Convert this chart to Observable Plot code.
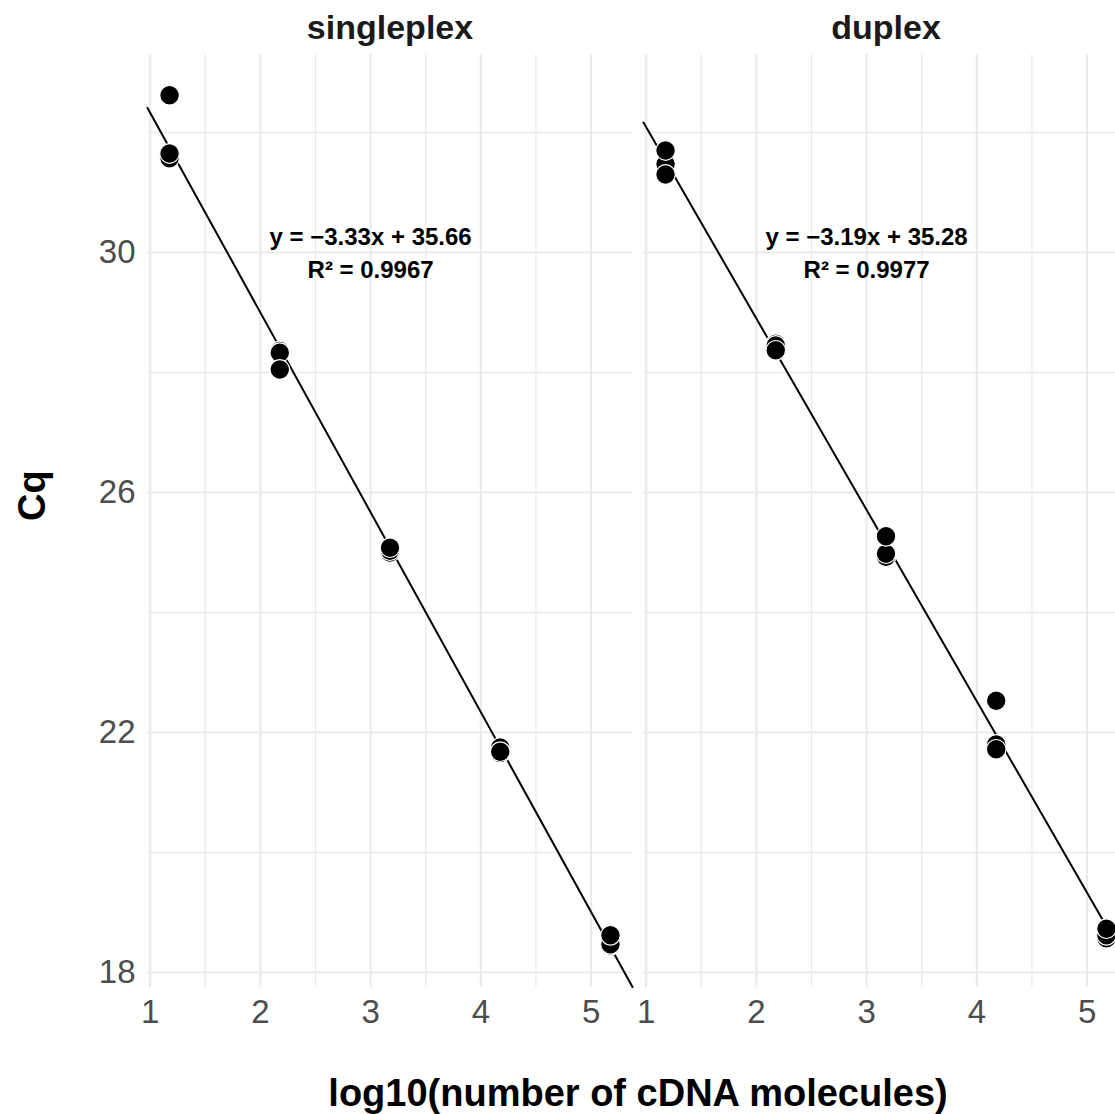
<!DOCTYPE html>
<html><head><meta charset="utf-8">
<script src="https://cdn.jsdelivr.net/npm/d3@7"></script>
<script src="https://cdn.jsdelivr.net/npm/@observablehq/plot@0.6"></script>
<style>
html,body{margin:0;padding:0;background:#fff;overflow:hidden}
#wrap{width:1115px;height:1114px;overflow:hidden}
#wrap svg{max-width:none !important;}
</style></head><body><div id="wrap"></div>
<script>
const panels = ["singleplex", "duplex"];
const logCopies = [1.176, 2.176, 3.176, 4.176, 5.176];
const cqSingleplex = [[31.57, 31.65, 32.62], [28.36, 28.33, 28.05], [25.00, 25.03, 25.08], [21.66, 21.75, 21.68], [18.45, 18.47, 18.62]];
const cqDuplex = [[31.47, 31.30, 31.70], [28.48, 28.45, 28.37], [24.93, 24.98, 25.27], [22.53, 21.80, 21.72], [18.57, 18.62, 18.73]];
const slopes = [-3.33, -3.19];
const intercepts = [35.66, 35.28];
const r2 = ["0.9967", "0.9977"];
const yTicks = [18, 22, 26, 30];
const yMinor = [20, 24, 28, 32];
const xTicks = [1, 2, 3, 4, 5];
const xMinor = [1.5, 2.5, 3.5, 4.5];
const xDomain = [0.976, 5.376];
const yDomain = [17.75, 33.3];
const xTitle = "log10(number of cDNA molecules)";
const yTitle = "Cq";

const series = [cqSingleplex, cqDuplex];
const points = panels.flatMap((p, i) =>
  series[i].flatMap((reps, j) => reps.map(cq => ({panel: p, x: logCopies[j], cq})))
);
const fitLine = panels.flatMap((p, i) =>
  xDomain.map(x => ({panel: p, x, y: intercepts[i] + slopes[i] * x}))
);
const labels = panels.map((p, i) => ({
  panel: p,
  text: `y = \u2212${Math.abs(slopes[i]).toFixed(2)}x + ${intercepts[i].toFixed(2)}\nR\u00b2 = ${r2[i]}`
}));

const gridColor = "#EBEBEB";
const chart = Plot.plot({
  width: 1128,
  height: 1114,
  marginLeft: 147,
  marginRight: 0,
  marginTop: 54,
  marginBottom: 127,
  style: {fontFamily: '"Liberation Sans", Arial, Helvetica, sans-serif', background: "#fff", maxWidth: "none"},
  fx: {domain: panels, paddingInner: 11 / 496, paddingOuter: 0, axis: null, label: null},
  x: {domain: xDomain},
  y: {domain: yDomain},
  marks: [
    Plot.gridY(yMinor, {stroke: gridColor, strokeOpacity: 1, strokeWidth: 1.3}),
    Plot.gridX(xMinor, {stroke: gridColor, strokeOpacity: 1, strokeWidth: 1.3}),
    Plot.gridY(yTicks, {stroke: gridColor, strokeOpacity: 1, strokeWidth: 2.2}),
    Plot.gridX(xTicks, {stroke: gridColor, strokeOpacity: 1, strokeWidth: 2.2}),
    Plot.axisY(yTicks, {tickSize: 0, tickPadding: 12, fontSize: 33, fill: "#4D4D4D", label: null, tickFormat: d => String(d)}),
    Plot.axisX(xTicks, {tickSize: 0, tickPadding: 12, fontSize: 33, fill: "#4D4D4D", label: null, tickFormat: d => String(d)}),
    Plot.text(panels, {fx: d => d, text: d => d, frameAnchor: "top", dy: -26, lineAnchor: "middle", fontSize: 34, fontWeight: "bold", fill: "#1A1A1A"}),
    Plot.line(fitLine, {fx: "panel", x: "x", y: "y", z: "panel", stroke: "black", strokeWidth: 2}),
    Plot.dot(points, {fx: "panel", x: "x", y: "cq", r: 9.8, fill: "black", stroke: "white", strokeWidth: 1.2}),
    Plot.text(labels, {fx: "panel", x: () => 3, y: () => 30.03, text: "text", fontSize: 24, fontWeight: "bold", lineHeight: 1.37, fill: "black", lineAnchor: "middle"}),
    Plot.text([yTitle], {facet: "super", frameAnchor: "left", dx: -115, rotate: -90, fontSize: 38, fontWeight: "bold", fill: "black", lineAnchor: "middle"}),
    Plot.text([xTitle], {facet: "super", frameAnchor: "bottom", dy: 106, fontSize: 38, fontWeight: "bold", fill: "black", lineAnchor: "middle"})
  ]
});
chart.style.maxWidth = "none";
document.getElementById("wrap").appendChild(chart);
</script>
</body></html>
